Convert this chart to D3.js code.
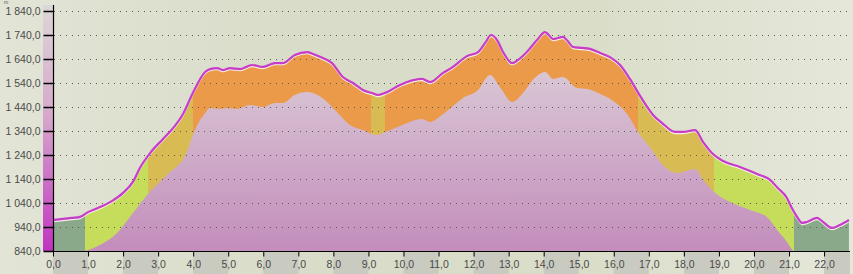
<!DOCTYPE html>
<html>
<head>
<meta charset="utf-8">
<script src="https://d3js.org/d3.v7.min.js"></script>
<style>
body { margin:0; background:#dde0cf; }
svg { display:block; }
</style>
</head>
<body>
<svg width="853" height="274"></svg>
<script>
// elevation profile (km, m)
var profKm = [0.00,0.54,0.77,1.00,1.34,1.68,2.00,2.28,2.48,2.77,3.14,3.48,3.71,3.99,4.34,4.48,4.68,4.85,5.05,5.34,
  5.68,5.99,6.33,6.56,6.90,7.25,7.42,7.70,7.96,8.27,8.56,8.84,9.10,9.27,9.53,9.90,10.53,10.76,11.13,11.41,
  11.81,12.13,12.33,12.50,12.67,12.84,13.10,13.27,13.52,13.81,14.04,14.12,14.27,14.55,14.66,14.84,15.09,15.32,15.61,15.89,
  16.18,16.46,16.75,17.12,17.38,17.75,17.97,18.32,18.55,18.83,19.12,19.60,20.09,20.46,20.68,20.94,21.08,21.23,21.37,21.51,
  21.80,21.97,22.23,22.45,22.71];
var profElev = [969,978,982,1002,1023,1048,1082,1128,1186,1248,1307,1361,1411,1498,1586,1598,1602,1594,1602,1598,
  1615,1607,1623,1623,1657,1669,1661,1644,1623,1565,1540,1511,1498,1490,1502,1532,1557,1544,1582,1607,
  1652,1669,1707,1740,1719,1669,1623,1636,1669,1719,1752,1744,1723,1732,1719,1690,1686,1682,1665,1648,
  1615,1557,1486,1407,1373,1336,1336,1344,1294,1244,1215,1190,1161,1136,1102,1061,1019,982,957,961,
  978,961,936,948,969];

// lower (pink) surface
var baseKm = [0.91,1.34,1.83,2.28,2.72,3.25,3.82,3.99,4.34,4.48,4.76,4.96,5.25,5.62,5.99,6.33,6.56,6.90,7.25,7.42,
  7.76,8.10,8.47,8.84,9.24,9.42,9.90,10.53,10.76,11.13,11.70,12.13,12.47,12.75,13.10,13.41,13.69,14.04,14.27,14.55,
  14.95,15.24,15.61,15.98,16.38,16.69,17.09,17.40,17.80,18.32,18.55,18.83,19.32,19.89,20.40,20.66,20.94,21.11];
var baseElev = [840,865,915,998,1080,1157,1252,1323,1415,1436,1432,1436,1432,1448,1440,1457,1457,1490,1502,1498,
  1469,1419,1365,1344,1323,1332,1361,1390,1378,1411,1478,1511,1573,1523,1461,1498,1552,1586,1557,1565,
  1519,1515,1494,1465,1411,1336,1261,1198,1165,1182,1136,1090,1044,1011,978,927,878,840];

// slope classes along the route
var segBreaks = [0, 0.91, 2.71, 4.0, 9.07, 9.47, 16.69, 18.86, 21.14, 22.74];
var segClass  = ["flat","easy","mid","steep","mid","steep","mid","easy","flat"];
var classColor = {flat:"#8aa98b", easy:"#c6dc5b", mid:"#d8bb52", steep:"#eb9a4a"};

var yTicks = [840,940,1040,1140,1240,1340,1440,1540,1640,1740,1840];
var xTicks = [0,1,2,3,4,5,6,7,8,9,10,11,12,13,14,15,16,17,18,19,20,21,22];

var svg = d3.select("svg"),
    width = +svg.attr("width"),
    height = +svg.attr("height");

var x = d3.scaleLinear().domain([0, 22.74]).range([53, 850]);
var y = d3.scaleLinear().domain([840, 1840]).range([251, 11]);

var prof = d3.zip(profKm, profElev);
var base = d3.zip(baseKm, baseElev);

var locale = d3.formatLocale({decimal: ",", thousands: " ", grouping: [3], currency: ["", ""]});
var fmtY = locale.format(",.1f");

var defs = svg.append("defs");

var bg = defs.append("linearGradient").attr("id", "bg");
bg.append("stop").attr("offset", "0%").attr("stop-color", "#e2e4d6");
bg.append("stop").attr("offset", "35%").attr("stop-color", "#d8dcc8");
bg.append("stop").attr("offset", "70%").attr("stop-color", "#dadec9");
bg.append("stop").attr("offset", "100%").attr("stop-color", "#e5e7da");

var pink = defs.append("linearGradient").attr("id", "pink")
    .attr("gradientUnits", "userSpaceOnUse")
    .attr("x1", 0).attr("y1", 40).attr("x2", 0).attr("y2", 251);
pink.append("stop").attr("offset", "0%").attr("stop-color", "#ddd0d8");
pink.append("stop").attr("offset", "100%").attr("stop-color", "#c38dbc");

var strip = defs.append("linearGradient").attr("id", "strip")
    .attr("gradientUnits", "userSpaceOnUse")
    .attr("x1", 0).attr("y1", 5).attr("x2", 0).attr("y2", 251);
strip.append("stop").attr("offset", "0%").attr("stop-color", "#ddd6d6");
strip.append("stop").attr("offset", "45%").attr("stop-color", "#d6a8cc");
strip.append("stop").attr("offset", "100%").attr("stop-color", "#c034c0");

svg.append("rect")
    .attr("width", width).attr("height", height)
    .attr("fill", "url(#bg)");

// bands under the x axis
svg.append("g").selectAll("rect")
    .data(xTicks.filter(function(d) { return d % 2 == 0; }))
    .enter().append("rect")
    .attr("x", function(d) { return x(d); })
    .attr("y", 252)
    .attr("width", function(d) { return x(Math.min(d + 1, 22.74)) - x(d); })
    .attr("height", height - 252)
    .attr("fill", "#c9cac0");

// colour strip left of the y axis
svg.append("rect")
    .attr("x", 43).attr("y", 5)
    .attr("width", 10).attr("height", 246)
    .attr("fill", "url(#strip)");

var area = d3.area()
    .x(function(d) { return x(d[0]); })
    .y0(y(840))
    .y1(function(d) { return y(d[1]); })
    .curve(d3.curveMonotoneX);

segClass.forEach(function(c, i) {
  var x0 = Math.round(x(segBreaks[i])), x1 = Math.round(x(segBreaks[i + 1]));
  defs.append("clipPath").attr("id", "seg" + i)
    .append("rect")
      .attr("x", x0).attr("y", 0)
      .attr("width", x1 - x0).attr("height", 251);
  svg.append("path")
      .datum(prof)
      .attr("clip-path", "url(#seg" + i + ")")
      .attr("fill", classColor[c])
      .attr("d", area);
});

svg.append("path")
    .datum(base)
    .attr("fill", "url(#pink)")
    .attr("d", area);

// dotted grid
svg.append("g").selectAll("line")
    .data(yTicks)
    .enter().append("line")
    .attr("x1", 54).attr("x2", 850)
    .attr("y1", function(d) { return y(d) + 0.5; })
    .attr("y2", function(d) { return y(d) + 0.5; })
    .attr("stroke", "#5a5a52")
    .attr("stroke-width", 1)
    .attr("stroke-dasharray", "1,5");

var line = d3.line()
    .x(function(d) { return x(d[0]); })
    .y(function(d) { return y(d[1]); })
    .curve(d3.curveMonotoneX);

svg.append("path")
    .datum(prof)
    .attr("fill", "none")
    .attr("stroke", "#f6efe6")
    .attr("stroke-width", 1.3)
    .attr("transform", "translate(0,1.6)")
    .attr("d", line);

svg.append("path")
    .datum(prof)
    .attr("fill", "none")
    .attr("stroke", "#c83ccc")
    .attr("stroke-width", 2.2)
    .attr("d", line);

// axes
var gy = svg.append("g")
    .attr("transform", "translate(53.5,0)")
    .call(d3.axisLeft(y).tickValues(yTicks).tickSize(10).tickPadding(3).tickFormat(fmtY));
gy.select(".domain").attr("d", "M0,5V251.5").attr("stroke", "#000").attr("stroke-width", 1.2);
gy.selectAll(".tick line").attr("stroke", "#000").attr("stroke-width", 1.5);

var gx = svg.append("g")
    .attr("transform", "translate(0,251.5)")
    .call(d3.axisBottom(x).tickValues(xTicks).tickSize(5).tickPadding(4)
      .tickFormat(function(d) { return locale.format(".1f")(d); }));
gx.select(".domain").attr("d", "M53,0H850").attr("stroke", "#000").attr("stroke-width", 1.2);
gx.selectAll(".tick line").attr("stroke", "#000");

svg.selectAll(".tick text")
    .attr("font-family", "Liberation Sans, Arial, sans-serif")
    .attr("font-size", 10.5)
    .attr("fill", "#4a4a4a");

// unit label, tucked above the top tick label
svg.append("text")
    .attr("x", 4).attr("y", 4)
    .attr("font-family", "Liberation Sans, Arial, sans-serif")
    .attr("font-size", 5)
    .attr("fill", "#555")
    .text("m");
</script>
</body>
</html>
